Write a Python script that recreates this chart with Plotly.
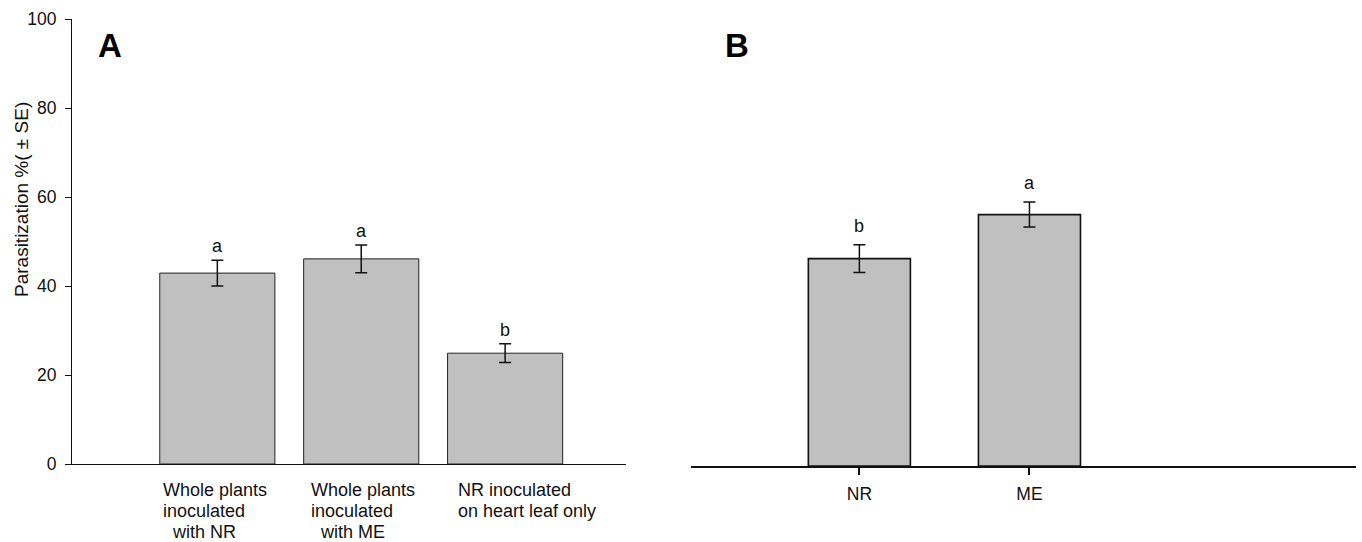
import plotly.graph_objects as go

# ---------------- data ----------------
cats_a = ["Whole plants inoculated with NR", "Whole plants inoculated with ME", "NR inoculated on heart leaf only"]
means_a = [42.9, 46.1, 24.9]
se_a = [2.9, 3.1, 2.1]
letters_a = ["a", "a", "b"]
label_lines_a = [
    ["Whole plants", "inoculated", "\u00a0\u00a0with NR"],
    ["Whole plants", "inoculated", "\u00a0\u00a0with ME"],
    ["NR inoculated", "on heart leaf only"],
]

cats_b = ["NR", "ME"]
means_b = [46.6, 56.5]
se_b = [3.1, 2.8]
letters_b = ["b", "a"]

y_ticks = [0, 20, 40, 60, 80, 100]
y_title = "Parasitization %( \u00b1 SE)"

# ---------------- layout helpers ----------------
W, H = 1362, 542
FONT = "Liberation Sans, Arial, sans-serif"
BAR = "#c0c0c0"

def px_x(p):
    return p / W

def px_y(p):
    return (H - p) / H

fig = go.Figure()

fig.add_trace(go.Bar(
    x=cats_a, y=means_a, width=0.8, xaxis="x", yaxis="y",
    marker=dict(color=BAR, line=dict(color="#222222", width=1)),
    error_y=dict(type="data", array=se_a, visible=True, color="#111111", thickness=1.5, width=6),
    showlegend=False, hoverinfo="skip",
))
fig.add_trace(go.Bar(
    x=cats_b, y=means_b, width=0.6, xaxis="x2", yaxis="y2",
    marker=dict(color=BAR, line=dict(color="#111111", width=1.6)),
    error_y=dict(type="data", array=se_b, visible=True, color="#111111", thickness=1.5, width=6),
    showlegend=False, hoverinfo="skip",
))

annotations = []
# significance letters
for c, m, s, l in zip(cats_a, means_a, se_a, letters_a):
    annotations.append(dict(x=c, y=m + s, xref="x", yref="y", text=l, showarrow=False,
                            xanchor="center", yanchor="bottom", yshift=2,
                            font=dict(family=FONT, size=18, color="#111")))
for c, m, s, l in zip(cats_b, means_b, se_b, letters_b):
    annotations.append(dict(x=c, y=m + s, xref="x2", yref="y2", text=l, showarrow=False,
                            xanchor="center", yanchor="bottom", yshift=7,
                            font=dict(family=FONT, size=18, color="#111")))

# panel A category labels (one annotation per line)
x_offsets = [-56, -52, -49]
for c, lines, dx in zip(cats_a, label_lines_a, x_offsets):
    for i, line in enumerate(lines):
        annotations.append(dict(x=c, y=0, xref="x", yref="y", text=line, showarrow=False,
                                xanchor="left", yanchor="top", xshift=dx, yshift=-14 - 21 * i,
                                font=dict(family=FONT, size=18, color="#111")))

# panel letters
annotations.append(dict(x=px_x(110), y=px_y(46), xref="paper", yref="paper", text="<b>A</b>",
                        xanchor="center", yanchor="middle", showarrow=False,
                        font=dict(family=FONT, size=33, color="#000")))
annotations.append(dict(x=px_x(737), y=px_y(46), xref="paper", yref="paper", text="<b>B</b>",
                        xanchor="center", yanchor="middle", showarrow=False,
                        font=dict(family=FONT, size=33, color="#000")))
# y-axis title
annotations.append(dict(x=px_x(21), y=px_y(200), xref="paper", yref="paper", text=y_title,
                        xanchor="center", yanchor="middle", textangle=-90, showarrow=False,
                        font=dict(family=FONT, size=19, color="#111")))

fig.update_layout(
    width=W, height=H, autosize=False,
    margin=dict(l=0, r=0, t=0, b=0, pad=0, autoexpand=False),
    paper_bgcolor="white", plot_bgcolor="white",
    font=dict(family=FONT, size=17, color="#111"),
    xaxis=dict(domain=[px_x(72), px_x(626)], range=[-1.01, 2.84], anchor="y",
               showline=True, linecolor="#111", linewidth=1.2, ticks="", showticklabels=False,
               showgrid=False, zeroline=False, fixedrange=True, automargin=False),
    yaxis=dict(domain=[px_y(464), px_y(19)], range=[0, 100], anchor="x",
               tickvals=y_ticks, showline=True, linecolor="#111", linewidth=1.2,
               ticks="outside", ticklen=6, tickcolor="#111", tickwidth=1,
               ticklabelstandoff=5,
               showgrid=False, zeroline=False, tickfont=dict(size=17.5), fixedrange=True,
               automargin=False),
    xaxis2=dict(domain=[px_x(691), px_x(1356)], range=[-0.99, 2.92], anchor="y2",
                showline=True, linecolor="#111", linewidth=2, ticks="outside", ticklen=7,
                tickcolor="#111", tickwidth=1.5, tickfont=dict(size=17.5),
                ticklabelstandoff=4,
                showgrid=False, zeroline=False, fixedrange=True, automargin=False),
    yaxis2=dict(domain=[px_y(466), px_y(21)], range=[0, 100], anchor="x2", visible=False,
                fixedrange=True),
    annotations=annotations,
)

fig.write_html(
    "out.html",
    config={"displayModeBar": False},
    post_script="document.body.style.margin='0';document.body.style.overflow='hidden';",
)
